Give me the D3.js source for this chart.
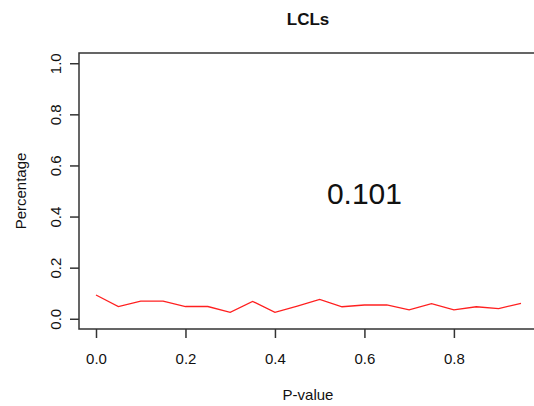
<!DOCTYPE html>
<style>
body { margin: 0; background: white; }
text { font-family: Arial, "Liberation Sans", sans-serif; fill: #111; }
.ttl { font-weight: bold; font-size: 17px; }
.tick text, .lab { font-size: 15px; }
</style>
<body>
<svg width="534" height="406"></svg>
</body>
<script src="https://d3js.org/d3.v7.min.js"></script>
<script>

// p-value bins and percentage per bin
var pvals = [0, 0.05, 0.1, 0.15, 0.2, 0.25, 0.3, 0.35, 0.4, 0.45,
             0.5, 0.55, 0.6, 0.65, 0.7, 0.75, 0.8, 0.85, 0.9, 0.95];
var pct = [0.093, 0.048, 0.069, 0.069, 0.048, 0.048, 0.025, 0.068, 0.025, 0.05,
           0.076, 0.047, 0.054, 0.054, 0.035, 0.059, 0.035, 0.047, 0.040, 0.060];
var xTicks = [0, 0.2, 0.4, 0.6, 0.8];
var yTicks = [0, 0.2, 0.4, 0.6, 0.8, 1.0];
var title = "LCLs";
var note = "0.101";

var svg = d3.select("svg");

// R style: 4% padding round the data range
var x = d3.scaleLinear().domain([-0.0475 * 0.8, 0.95 * 1.04]).range([79, 538]);
var y = d3.scaleLinear().domain([-0.04, 1.04]).range([329, 53]);

// box
svg.append("rect")
  .attr("x", 79).attr("y", 53)
  .attr("width", 459).attr("height", 276)
  .attr("fill", "none")
  .attr("stroke", "#333")
  .attr("stroke-width", 1.5);

var xAxis = svg.append("g")
  .attr("transform", "translate(0,329)")
  .call(d3.axisBottom(x).tickValues(xTicks).tickFormat(d3.format(".1f")).tickSize(9).tickPadding(15));
xAxis.select(".domain").remove();

var yAxis = svg.append("g")
  .attr("transform", "translate(79,0)")
  .call(d3.axisLeft(y).tickValues(yTicks).tickFormat(d3.format(".1f")).tickSize(9));
yAxis.select(".domain").remove();
yAxis.selectAll(".tick text")
  .attr("x", null).attr("dy", null)
  .attr("text-anchor", "middle")
  .attr("transform", "translate(-18,0) rotate(-90)");

svg.selectAll(".tick line").attr("stroke", "#333").attr("stroke-width", 1.5);
svg.selectAll(".tick text").attr("fill", "#111");

var line = d3.line()
  .x(function(d, i) { return x(pvals[i]); })
  .y(function(d) { return y(d); });

svg.append("path")
  .datum(pct)
  .attr("d", line)
  .attr("fill", "none")
  .attr("stroke", "#ff2020")
  .attr("stroke-width", 1.3);

svg.append("text")
  .attr("class", "ttl")
  .attr("x", 308).attr("y", 25)
  .attr("text-anchor", "middle")
  .text(title);

svg.append("text")
  .attr("class", "lab")
  .attr("x", 308).attr("y", 400)
  .attr("text-anchor", "middle")
  .text("P-value");

svg.append("text")
  .attr("class", "lab")
  .attr("transform", "translate(26,191) rotate(-90)")
  .attr("text-anchor", "middle")
  .text("Percentage");

svg.append("text")
  .attr("x", x(0.6)).attr("y", y(0.5) + 13)
  .attr("text-anchor", "middle")
  .style("font-size", "30px")
  .text(note);

</script>
